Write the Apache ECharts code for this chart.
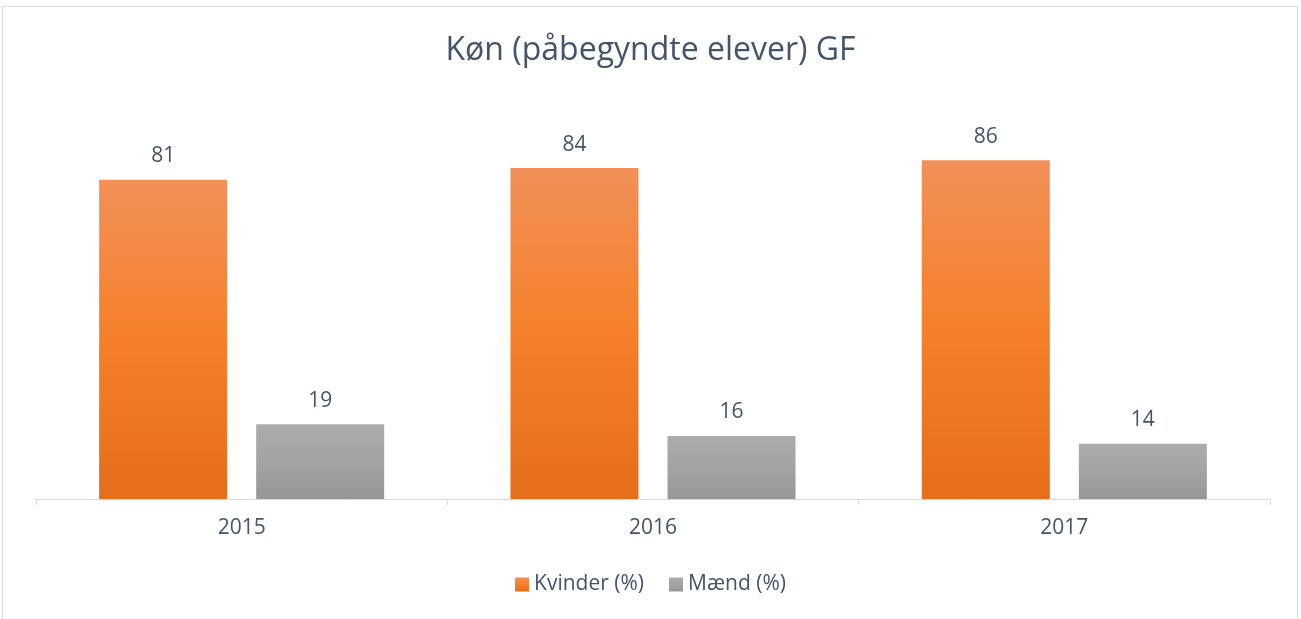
<!DOCTYPE html>
<html lang="da">
<head>
    <meta charset="UTF-8">
    <title>Køn (påbegyndte elever) GF</title>
    <style>
        html, body { margin: 0; padding: 0; background: #fff; }
        .frame { position: absolute; left: 2px; top: 6px; width: 1296px; height: 620px; border: 1px solid #d9d9d9; box-sizing: border-box; }
        #chart { position: absolute; left: 0; top: 0; width: 1301px; height: 619px; }
    </style>
</head>
<body>
    <div class="frame"></div>
    <div id="chart"></div>

    <script src="https://cdn.jsdelivr.net/npm/echarts@6/dist/echarts.min.js"></script>
    <script>
        // data
        var years = ['2015', '2016', '2017'];
        var kvinder = [81, 84, 86];
        var maend = [19, 16, 14];

        var txt = '#44546a';
        var font = '"Open Sans", "Noto Sans", sans-serif';

        function grad(top, mid, bottom) {
            return new echarts.graphic.LinearGradient(0, 0, 0, 1, [
                { offset: 0, color: top },
                { offset: 0.5, color: mid },
                { offset: 1, color: bottom }
            ]);
        }

        var myChart = echarts.init(document.getElementById('chart'));
        var option = {
            animation: false,
            textStyle: { fontFamily: font },
            title: {
                text: 'Køn (påbegyndte elever) GF',
                left: 'center',
                top: 30,
                textStyle: { color: txt, fontSize: 32, fontWeight: 'normal', fontFamily: font }
            },
            legend: {
                bottom: 19,
                left: 'center',
                itemWidth: 14,
                itemHeight: 14,
                itemGap: 25,
                icon: 'rect',
                textStyle: { color: txt, fontSize: 21, fontFamily: font },
                data: ['Kvinder (%)', 'Mænd (%)']
            },
            grid: { left: 36, right: 31, top: 105, bottom: 120, containLabel: false },
            xAxis: {
                type: 'category',
                data: years,
                axisLine: { lineStyle: { color: '#d9d9d9', width: 1 } },
                axisTick: { show: true, length: 6, lineStyle: { color: '#d9d9d9' } },
                axisLabel: { color: txt, fontSize: 21, margin: 19, fontFamily: font }
            },
            yAxis: {
                type: 'value',
                min: 0,
                max: 100,
                show: false,
                splitLine: { show: false }
            },
            series: [
                {
                    name: 'Kvinder (%)',
                    type: 'bar',
                    data: kvinder,
                    barWidth: 128,
                    barGap: '22.7%',
                    itemStyle: { color: grad('#f29058', '#f58029', '#e66d19') },
                    label: { show: true, position: 'top', distance: 13, color: txt, fontSize: 21, fontFamily: font }
                },
                {
                    name: 'Mænd (%)',
                    type: 'bar',
                    data: maend,
                    barWidth: 128,
                    itemStyle: { color: grad('#acacac', '#a3a3a3', '#979797') },
                    label: { show: true, position: 'top', distance: 13, color: txt, fontSize: 21, fontFamily: font }
                }
            ]
        };
        myChart.setOption(option);
    </script>
</body>
</html>
